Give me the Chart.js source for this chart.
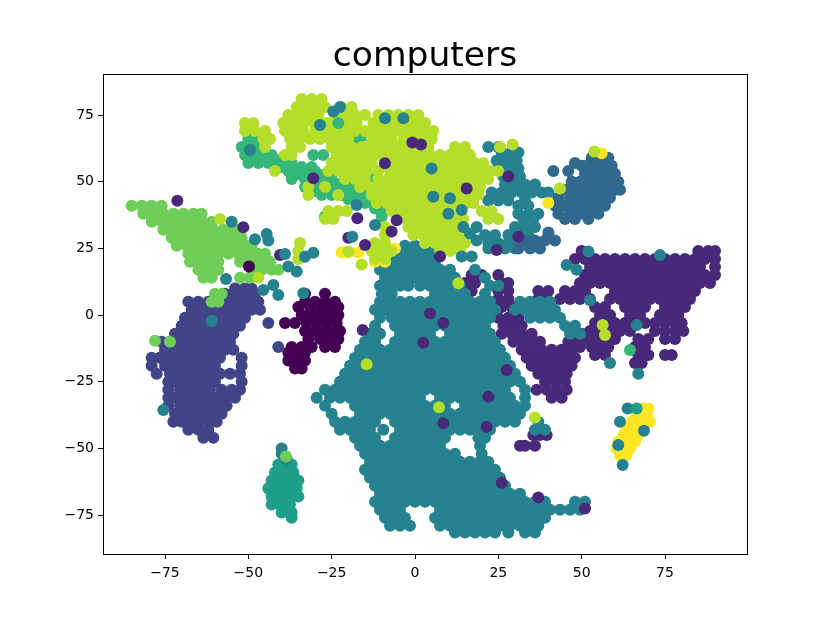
<!DOCTYPE html>
<html>
<head>
<meta charset="utf-8">
<script src="https://cdn.jsdelivr.net/npm/chart.js@4/dist/chart.umd.min.js"></script>
<style>
html, body { margin: 0; padding: 0; background: #fff; }
canvas { display: block; }
</style>
</head>
<body>
<canvas id="tsneChart" width="830" height="623"></canvas>
<script>
const chartTitle = 'computers';
const xTicks = [-75, -50, -25, 0, 25, 50, 75];
const yTicks = [-75, -50, -25, 0, 25, 50, 75];

// each row is [y, x, x, x ...]
const purpleRows = [
	[24,50,85,88,90],
	[21,48,51,54,57,60,63,66,69,72,75,78,81,84,87,90],
	[18,52.5,55.5,58.5,61.5,64.5,67.5,70.5,73.5,76.5,79.5,82.5,85.5,90],
	[15,51,54,57,60,63,66,69,72,75,78,81,84,87,90],
	[12,49.5,52.5,55.5,58.5,61.5,64.5,67.5,70.5,73.5,76.5,79.5,82.5,85.5,88.5],
	[9,45,48,51,60,63,66,69,72,75,78,81,84],
	[6,43.5,46.5,49.5,52.5,58.5,61.5,64.5,67.5,70.5,73.5,76.5,79.5,82.5],
	[3,54,57,63,66,69,75,78,81],
	[0,55.5,58.5,64.5,67.5,73.5,76.5,79],
	[-3,54,57,60,63,66,69,72,75,78,80],
	[-6,52.5,55.5,58.5,61.5,64.5,72,75,78,80.5],
	[-9,48,51,54,57,60,67,70,75,78],
	[-12,46.5,49.5,53,56,58,66,69],
	[-15,54,57,67,70,75,77],
	[-18,66,68],
	[15,17,20,25],
	[12,15,18,26,28],
	[9,15,17,25,28,37,40],
	[6,25,28,37,39],
	[3,26,29],
	[-1,25,28,31],
	[-4,26.5,29.5,32],
	[-7,26,29,32,35,47,50,52],
	[-10,29.5,32.5,35.5,37.5,46,49],
	[-13,32,35,38,41,44,47],
	[-16,33.5,36.5,39.5,42.5,45.5,48],
	[-19,35,38,41,44,47],
	[-22,37,40,43,45.5],
	[-25,39,42,45],
	[-28,36.5,39.5,42.5,45.5],
	[-31,41,44],
	[-45,35.5,37.5,39.5],
	[-49,31.5,33,36]
];

const tealRows = [
	[26,-3,0,3,6,9],
	[23,-4.5,-1.5,1.5,4.5,7.5],
	[20,-9,-6,-3,0,3,6],
	[17,-10.5,-7.5,-4.5,-1.5,1.5,4.5,7.5,10.5,18],
	[14,-9,-6,-3,0,3,6,9,12,21],
	[11,-10.5,-7.5,-4.5,-2,1.5,4.5,7.5,10.5,13.5,22.5,25],
	[8,-10,-7,6,9,12,15,21],
	[5,-10.5,-7.5,-4.5,-1.5,1.5,4.5,7.5,10.5,13.5,16.5,19.5,22.5,31.5,34.5,37.5,40.5],
	[2,-12,-9,-6,-3,0,3,6,9,12,15,18,21,24,30,33,36,39,42],
	[-1,-10.5,-7,-4.5,-1.5,1.5,4.5,7.5,10.5,13.5,16.5,19.5,22.5,34.5,37.5,40.5,43.5],
	[-4,-12,-6,-3,0,3,6,9,12,15,18,21,45,48],
	[-7,-13.5,-10.5,-4.5,-1.5,1.5,4.5,10.5,13.5,16.5,19.5,22.5,46.5,49.5],
	[-10,-15,-12,-6,-3,0,3,6,9,12,15,18,21,24],
	[-13,-16.5,-13.5,-10.5,-7.5,-4.5,-1.5,1.5,4.5,7.5,10.5,13.5,16.5,19.5,22.5,25.5],
	[-16,-18,-15,-12,-9,-6,-3,0,3,6,9,12,15,18,21,24,27],
	[-19,-19.5,-16.5,-13.5,-10.5,-7.5,-4.5,-1.5,1.5,4.5,7.5,10.5,13.5,16.5,19.5,22.5,25.5,28.5],
	[-22,-21,-18,-15,-12,-9,-6,-3,0,3,6,9,12,15,18,21,24,27,30],
	[-25,-22.5,-19.5,-16.5,-13.5,-10.5,-7.5,-4.5,-1.5,1.5,4.5,7.5,10.5,13.5,16.5,19.5,22.5,25.5,28.5,31.5],
	[-28,-27,-24,-21,-18,-15,-12,-9,-6,-3,0,3,6,9,12,15,18,21,24,27,33],
	[-31,-29.5,-25.5,-22.5,-19.5,-16.5,-13.5,-10.5,-7.5,-4.5,-1.5,1.5,7.5,10.5,13.5,16.5,19.5,22.5,25.5,28.5,33],
	[-34,-27,-18,-15,-12,-9,-6,-3,0,3,6,9,15,18,21,24,27,30,33],
	[-37,-25,-16.5,-13.5,-10.5,-7.5,-4.5,-1.5,1.5,4.5,7.5,10.5,13.5,16.5,19.5,22.5,25.5,28.5,31.5],
	[-40,-24,-21,-18,-15,-12,-6,-3,0,3,6,9,12,15,18,21,24,27,30,37],
	[-43,-22.5,-19.5,-16.5,-13.5,-9.5,-4.5,-1.5,1.5,4.5,7.5,10.5,13.5,16.5,19.5,22.5,36,39],
	[-46,-18,-15,-12,-6,-3,0,3,6,9,19,21],
	[-49,-16.5,-13.5,-10.5,-7.5,-4.5,-1.5,1.5,4.5,7.5,19.5],
	[-52,-15,-12,-9,-6,-3,0,3,6,9,12,20],
	[-55,-13.5,-10.5,-7.5,-4.5,-1.5,1.5,4.5,7.5,10.5,13.5,16.5,19.5,22],
	[-58,-15,-12,-9,-6,-3,0,3,6,9,12,15,18,21,24],
	[-61,-13.5,-10.5,-7.5,-4.5,-1.5,1.5,4.5,7.5,10.5,13.5,16.5,19.5,22.5,25.5],
	[-64,-12,-9,-6,-3,0,3,6,9,12,15,18,21,24,27],
	[-67,-10.5,-7.5,-4.5,-1.5,1.5,4.5,7.5,10.5,13.5,16.5,19.5,22.5,25.5,28.5,31.5],
	[-70,-12,-9,-6,-3,0,3,6,9,12,15,18,21,24,27,30,33,36,39,48,51],
	[-73,-10.5,-7.5,-4.5,7.5,10.5,13.5,16.5,19.5,22.5,25.5,28.5,31.5,34.5,37.5,40.5,43.5,46.5,49.5],
	[-76,-9,-6,-3,6,9,12,15,18,21,24,27,30,33,36,39],
	[-79,-7.5,-4.5,-1.5,7.5,10.5,13.5,16.5,19.5,22.5,25.5,28.5,31.5,34.5,37],
	[-81.5,12,15,18,21,24,28,33,36],
	// upper right lumps
	[63,22,25],
	[61,26,29,31],
	[58,24.5,27.5,30.5],
	[55,25,28,31],
	[52,26.5,29.5,31.5],
	[49,27,30,33,36],
	[46,23,26,29,32,35,38,40],
	[43,22,25,28,33],
	[41,31,34],
	[38,31,34,37],
	[36,32.5,35.5],
	[33,30,33,36],
	[30,21,24,28,31,34],
	[27,22,25,28,31],
	[25,22,27,30]
];

const steelRows = [
	[59,53,56,58],
	[56,50,51.5,54.5,57.5,59],
	[53,51,54,57,60],
	[50,47,49.5,52.5,55.5,58.5,61],
	[47,45,48,51,54,57,60,61.5],
	[44,43,46.5,49.5,52.5,55.5,58.5],
	[41,42,45,48,51,54,57],
	[38,43,46.5,49.5,52.5,55],
	[36,45,48,52],
	[54,41.5,46],
	[57,48],
	[31,40],
	[28,33,36,39,42],
	[25,31,34.5,37.5]
];

const indigoRows = [
	[10,-54,-51,-49],
	[8,-57,-54,-51,-48],
	[5,-68,-65,-62,-59,-56,-53,-50,-47],
	[2,-67,-64,-61,-58,-55,-52,-49,-46.5],
	[-1,-69,-66,-63,-60,-57,-54,-51],
	[-4,-70,-67.5,-64.5,-61.5,-58.5,-55.5,-52.5],
	[-7,-72,-69,-66,-63,-60,-57,-54.5],
	[-10,-76,-73.5,-70.5,-67.5,-64.5,-61.5,-58.5,-55.5],
	[-13,-75,-72,-69,-66,-63,-60,-57,-54.5],
	[-16,-79,-76.5,-73.5,-70.5,-67.5,-64.5,-61.5,-58.5,-52],
	[-19,-79,-75,-72,-69,-66,-63,-60,-52],
	[-22,-77.5,-73.5,-70.5,-67.5,-64.5,-61.5,-58.5,-55.5,-52.5],
	[-25,-74,-72,-69,-66,-63,-60,-52],
	[-28,-74,-70.5,-67.5,-64.5,-61.5,-58,-55,-52.5],
	[-31,-74,-72,-69,-66,-63,-60,-57,-54],
	[-34,-74,-70.5,-67.5,-64.5,-61.5,-58.5,-56.5],
	[-37,-72,-69,-66,-63,-60,-58],
	[-40,-72.5,-70,-67.5,-64.5,-61.5,-59.5],
	[-43,-68,-65,-62],
	[-46,-63.5,-60.5],
	[-3,-44],
	[-12,-41]
];

const darkRows = [
	[8,-33,-27],
	[5,-33,-30,-27,-24],
	[3,-35,-31.5,-28.5,-25.5,-23],
	[0,-34,-31,-28,-25,-23],
	[-3,-39,-36,-32.5,-29.5,-26.5,-23.5],
	[-6,-33,-30,-27,-24,-22.5],
	[-9,-32,-28.5,-25.5,-23],
	[-12,-37,-34,-31,-27,-24],
	[-14,-38,-35.5,-33],
	[-17,-38,-35,-33],
	[-20,-36,-34]
];

const seaRows = [
	[-56,-41,-39,-37],
	[-59,-42,-39.5,-36.5],
	[-62,-43,-40,-37,-35],
	[-65,-44,-41.5,-38.5,-35.5],
	[-68,-43,-40,-37,-35],
	[-71,-43,-40.5,-37.5],
	[-74,-40,-37],
	[-76,-37]
];

const greenRows = [
	[67,-16],
	[66,-50,-47,-18],
	[65,-19],
	[63,-52,-49,-47],
	[62,-50.5,-48],
	[60,-51,-48,-45,-43,-30.5,-27.5],
	[58.5,-49,-46,-43,-40],
	[57,-50,-47,-44,-41,-39,-37],
	[55.5,-40,-37,-34,-31],
	[54,-38,-35,-32,-30],
	[52.5,-36,-33,-30,-27.5],
	[51,-37,-33,-30,-27,-25,-13],
	[49.5,-31.5,-28,-25,-22,-19],
	[48,-33,-29,-26,-23,-20,-18],
	[46.5,-30,-27,-24,-21,-18,-15],
	[45,-28,-25,-22,-19,-16],
	[43.5,-20,-17,-14,-11],
	[42,-15,-12,-10],
	[40,-12,-9],
	[37,-27,-10]
];

const leafRows = [
	[41,-85,-82,-79,-76],
	[38,-81.5,-78.5,-75.5,-72.5,-69.5,-66.5,-64],
	[35,-79,-76,-73,-70,-67,-64,-61],
	[32,-75.5,-72.5,-69.5,-66.5,-63.5,-60.5,-57.5,-54.5,-53],
	[29,-73,-70,-67,-64,-61,-58,-55,-52],
	[26,-71.5,-68.5,-65.5,-62.5,-59.5,-56.5,-53.5,-50.5,-49],
	[23,-68,-65,-62,-59,-56,-53,-50,-47,-45],
	[20,-67.5,-64.5,-61.5,-59,-52.5,-49.5,-46.5,-43.5],
	[17,-65,-62,-59,-49,-46,-43,-41],
	[14,-63.5,-61,-52.5,-49.5],
	[8,-60,-58],
	[5,-61,-59]
];

const limeRows = [
	[81,-34,-31,-28],
	[78,-35.5,-32.5,-29.5,-27,-22,-19],
	[75,-38,-35,-32,-29,-24,-21,-18,-15,-11,-8,-5,-2,1],
	[72,-51,-48.5,-39.5,-36.5,-33.5,-30.5,-26.5,-23.5,-20.5,-17.5,-12.5,-9.5,-6.5,-4,-1.5,1,3],
	[69,-51,-48,-45,-39,-36,-33.5,-30,-27,-24,-21,-18,-15,-12,-9,-6,-3,0,3,5.5],
	[66,-45.5,-43.5,-37.5,-34.5,-31.5,-28.5,-25.5,-22.5,-20,-13,-10,-7,-3.5,-0.5,2.5,5],
	[63,-45,-37,-34.5,-25,-22,-19,-16,-14,-11,-8,-5,-2,1,4,12,15],
	[60,-39,-37,-23.5,-20.5,-18,-15,-12.5,-10.5,-7.5,-4.5,-1.5,1.5,4.5,7.5,10.5,13.5,16.5],
	[57,-25,-22,-19,-16,-13,-9,-6,-3,0,3,6,9,12,15,18,20.5],
	[54,-42,-26,-23,-20.5,-17.5,-14.5,-11,-7.5,-4.5,-1.5,1.5,4.5,7.5,10.5,13.5,16.5,19.5,22.5,25],
	[51,-21,-18,-15,-11,-8,-5,-2,1,4,7,10,13,16,19,22],
	[48,-32,-27,-16.5,-13.5,-10.5,-7.5,-4.5,-1.5,1.5,4.5,7.5,10.5,13.5,16.5,19.5],
	[45,-32,-23,-13,-10,-7,-4,-1,2,5,8,11,14,17,19],
	[42,-11.5,-8.5,-5.5,-2.5,0.5,3.5,6.5,9.5,12.5,15.5,17.5],
	[39,-26,-23,-20.5,-7,-4,-1,2,5,8,11,14,20,23],
	[36,-58.5,-27,-24.5,-2.5,0.5,3.5,6.5,9.5,12.5,14.5,22,25],
	[33,-9,-2,1,4,7,10,13],
	[30,-9,-0.5,2.5,5.5,8.5,11.5,14],
	[27,-34.5,-12,-9,3,6,9,12,15],
	[24,-35,-13,-10,-7,7.5,10.5,13.5],
	[21,-35,-12,-9],
	[19,-16],
	[14,-47]
];

// single points lying on top of the big clumps
const topPurple = [[-71.3,42.9],[-0.8,64.7],[1.8,64],[-9,56.9],[-30.5,51.3],[-17.3,36.3],[-7,31.3],[-5.5,35.6],[-15,26.3],[-20,29],[-51.5,32.9],[-40.5,22.5],[28,52],[15.5,47.5],[7.5,22],[24.5,24.4],[31,29.4],[-15.7,-5.6],[2.5,-10.4],[8.5,-3],[22,-30.6],[8.5,-40.6],[21.5,-41.9],[26,-62.9],[37,-68.4],[51,-72.5],[27.5,-20.6],[4.5,0.6]];
const topDark = [[-49.8,18.2]];
const topTeal = [[-28.5,71.3],[-49.5,61.9],[-22.5,78],[-24.5,76.3],[-9,73.8],[-3.5,73.8],[-12,33.8],[-17.5,41.3],[-18.8,29.4],[-55,35],[-48,28.4],[-44.5,30.4],[-44,28],[-39,22.9],[-38,18.2],[-35.5,16.3],[-33,21.9],[-30.5,23.4],[-56.7,13.5],[-42.5,11.3],[-41,7.5],[-45.5,9.4],[-33.5,8.2],[5,55],[5.5,44.4],[10.5,43.8],[10,38],[14,39.4],[14.5,33],[16.5,30.6],[18.5,33],[18.5,28],[14,22],[17,22],[63.8,-35],[61.5,-40],[62.3,-56.2],[61,-48.7],[68.7,-43.4],[66.5,-3.7],[58.5,-18],[67,-22],[52.5,5.6],[45.5,18.8],[48.5,17],[52,23.8],[73.5,22.5],[-75.5,-35.6],[-61,-2.2],[-40,-50],[-40,-52],[-38.5,-54]];
const topSea = [[66.5,-35]];
const topLeaf = [[-73.5,-10],[-78,-9.6],[-38.7,-53]];
const topGreen = [[64.5,-13.1],[-23,72]];
const topLime = [[56.3,-3.7],[57,-7.5],[7.2,-34.6],[36,-38.4],[-14.5,-18.4],[13,11.9],[43.5,47.5],[53.8,61.3],[25.5,63],[29.3,64],[-20,23.8]];
const topYellow = [[-22,23.5],[-20,23.5],[-17,23.5],[-12,20],[-9,20],[-6,25],[40,42],[56,60.7]];
const yellowRows = [
	[-35,68,70],
	[-37.5,66.5,69.5],
	[-40,65,67.5,70.5],
	[-42.5,63.5,66.5,68.5],
	[-45,62.5,65.5,67],
	[-47.5,61,63.5,66],
	[-50,60.5,63,64.5],
	[-52.5,61.5,63.5]
];

function fromRows(rows) {
	var out = [];
	rows.forEach(function (row) {
		for (var i = 1; i < row.length; i++) {
			out.push({ x: row[i], y: row[0] });
		}
	});
	return out;
}

function fromPairs(pairs) {
	return pairs.map(function (p) { return { x: p[0], y: p[1] }; });
}

// listed bottom to top
const layers = [
	[fromRows(purpleRows), '#482878'],
	[fromRows(tealRows), '#26828e'],
	[fromRows(steelRows), '#31688e'],
	[fromRows(darkRows), '#440154'],
	[fromRows(indigoRows), '#414487'],
	[fromRows(seaRows), '#1f9e89'],
	[fromRows(greenRows), '#35b779'],
	[fromRows(leafRows), '#6ece58'],
	[fromRows(yellowRows), '#fde725'],
	[fromPairs(topYellow), '#fde725'],
	[fromRows(limeRows), '#b5de2b'],
	[fromPairs(topPurple), '#482878'],
	[fromPairs(topDark), '#440154'],
	[fromPairs(topTeal), '#26828e'],
	[fromPairs(topSea), '#1f9e89'],
	[fromPairs(topLeaf), '#6ece58'],
	[fromPairs(topGreen), '#35b779'],
	[fromPairs(topLime), '#b5de2b']
];

const frame = {
	id: 'frame',
	afterDatasetsDraw: function (chart) {
		const a = chart.chartArea;
		const c = chart.ctx;
		c.save();
		c.strokeStyle = '#000';
		c.lineWidth = 1;
		c.strokeRect(a.left + 0.5, a.top + 0.5, a.right - a.left, a.bottom - a.top);
		c.restore();
	}
};

function axis(ticks, min, max, pad, fit) {
	return {
		type: 'linear',
		min: min,
		max: max,
		afterBuildTicks: function (scale) {
			scale.ticks = ticks.map(function (v) { return { value: v }; });
		},
		afterFit: fit,
		border: { display: false },
		grid: { drawOnChartArea: false, drawTicks: true, tickLength: 5, color: '#000', lineWidth: 1 },
		ticks: {
			color: '#000',
			padding: pad,
			maxRotation: 0,
			autoSkip: false,
			font: { family: 'DejaVu Sans', size: 14 },
			callback: function (v) { return v < 0 ? '\u2212' + Math.abs(v) : '' + v; }
		}
	};
}

const ctx = document.getElementById('tsneChart').getContext('2d');
const tsneChart = new Chart(ctx, {
	type: 'scatter',
	data: {
		datasets: layers.map(function (l, i) {
			return {
				data: l[0],
				order: -i,
				backgroundColor: l[1],
				borderWidth: 0,
				pointRadius: 6,
				pointHoverRadius: 6
			};
		})
	},
	options: {
		responsive: false,
		animation: false,
		layout: { padding: { left: 0, right: 83, top: 0, bottom: 0 } },
		plugins: {
			legend: { display: false },
			tooltip: { enabled: false },
			title: {
				display: true,
				text: chartTitle,
				color: '#000',
				fullSize: false,
				font: { family: 'DejaVu Sans', size: 34.5, weight: 'normal', lineHeight: 1 },
				padding: { top: 39.5, bottom: 0 }
			}
		},
		scales: {
			x: axis(xTicks, -93.6, 99.6, 6, function (s) { s.height = 69; }),
			y: axis(yTicks, -89.6, 90.4, 4, function (s) { s.width = 103; })
		}
	},
	plugins: [frame]
});
</script>
</body>
</html>
